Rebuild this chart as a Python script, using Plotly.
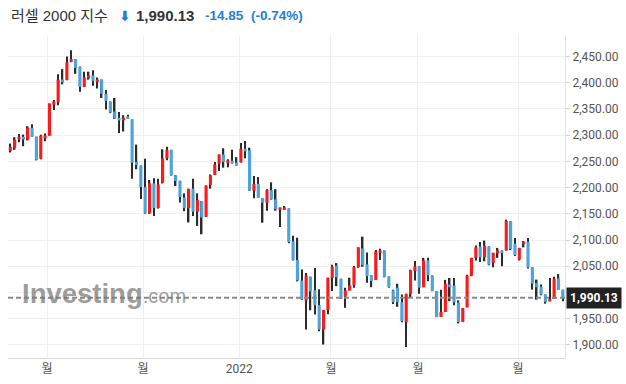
import plotly.graph_objects as go

# ---------------- data (daily OHLC) ----------------
open_ = [2270, 2276, 2292, 2297, 2292, 2314, 2297, 2255, 2294, 2299.4,
         2358, 2363, 2406, 2405, 2440, 2445, 2430, 2392, 2409, 2414,
         2401, 2406, 2379, 2364, 2345, 2333,
         2328.5, 2336, 2330, 2249, 2242, 2201, 2150.6, 2208, 2161, 2209.5,
         2256, 2272, 2223.4, 2213, 2181, 2161, 2198, 2154, 2174, 2144.3,
         2205, 2224, 2245.6, 2263, 2247,
         2251, 2248, 2248, 2274, 2271, 2194, 2207, 2180, 2171, 2195,
         2177.6, 2157.7, 2157.7, 2160, 2097.4, 2062, 2022.5, 1984.6, 2030, 2004.5,
         1976, 1929.5, 1966.7, 2027.6, 2051, 2026,
         1992.3, 2003.8, 2013.4, 2048.4, 2084, 2053.5, 2032.5, 2023.6, 2075, 2080,
         2030.6, 2003.8, 2009, 1981.5, 1943.3, 1997.4, 2040.8, 2050.3, 2010, 2061,
         2032.5, 2002.5, 1953, 1963, 2015.3,
         2013, 1981, 1943.6, 1971.6, 2032, 2066, 2087.6, 2067, 2087.6, 2056.4,
         2075, 2080, 2080, 2136, 2092.7, 2062.7, 2092.7, 2096.5, 2048, 2018,
         2011, 1996, 1983, 1988, 2026.4, 2005]
high = [2284, 2296, 2302, 2301, 2317, 2321, 2297, 2301, 2303, 2360.5,
        2367, 2416, 2426, 2450, 2462, 2445, 2431, 2421, 2421, 2424,
        2410, 2406, 2386, 2364, 2371, 2344,
        2338, 2339, 2330, 2282, 2242, 2255, 2214.5, 2218, 2217, 2273,
        2278, 2272, 2223.4, 2213, 2189, 2198, 2217, 2189, 2174, 2204,
        2225, 2249, 2263, 2275, 2254,
        2272, 2258, 2285, 2289, 2276, 2222, 2220, 2180, 2197, 2210,
        2197, 2162, 2165, 2160, 2108, 2104.5, 2043.6, 2037, 2030, 2046.8,
        2006, 1966.7, 2028, 2053, 2056, 2026,
        2009, 2028, 2050.3, 2086, 2106.4, 2076, 2032.5, 2081, 2083.4, 2080,
        2030.6, 2005, 2016.6, 1996, 1997.4, 2043.3, 2060, 2050.3, 2066, 2066,
        2032.5, 2002.5, 2005, 2024, 2027.7,
        2027.7, 1985, 1970.4, 2034, 2066, 2089.5, 2096, 2099, 2087.6, 2075.5,
        2085, 2080, 2139, 2136, 2104, 2085, 2098, 2104, 2048, 2024.5,
        2015, 1996, 2027.7, 2030, 2035, 2005]
low = [2267, 2272, 2286.5, 2279, 2290, 2297, 2252, 2254, 2288.5, 2299,
       2348, 2357, 2397, 2404.5, 2439, 2417, 2383, 2392, 2406, 2394,
       2389, 2371, 2349, 2342, 2331, 2304,
       2307, 2331, 2217, 2235, 2178, 2150, 2150, 2146, 2160, 2208,
       2252, 2223, 2203, 2171.5, 2155, 2133.5, 2146, 2127, 2111, 2144,
       2198, 2224, 2231.6, 2238, 2239,
       2246, 2242, 2248, 2256, 2194, 2179.5, 2181, 2133, 2156, 2177,
       2156, 2125, 2157.7, 2094, 2061, 2021, 1986, 1929.5, 1966, 1958,
       1926, 1900.7, 1958.4, 2003, 2012, 1988,
       1970.7, 2003.8, 2009, 2047, 2049, 2018.5, 2010, 2023.6, 2062, 2029,
       2009, 1978, 1972.6, 1943.3, 1896, 1991, 2023, 1997.4, 2010, 2021.6,
       2002.5, 1953, 1953, 1963, 1983.4,
       1975.5, 1941, 1943.6, 1971.6, 2031, 2061, 2058, 2059.5, 2052, 2048,
       2066, 2050, 2080, 2081, 2069.7, 2061, 2086, 2045.5, 2005.4, 1986.3,
       1994.6, 1978.7, 1983, 1988, 2004.98, 1983]
close = [2277.6, 2291, 2297, 2292, 2314, 2297, 2253, 2299, 2299, 2360,
         2364, 2406, 2401, 2439, 2445, 2428, 2392, 2410, 2414, 2403,
         2406, 2379, 2365, 2343, 2332, 2328,
         2333.5, 2331, 2247.5, 2243, 2201, 2150.6, 2208, 2161, 2206, 2255.7,
         2272, 2223, 2212.6, 2182, 2161, 2197, 2154, 2176, 2143, 2204,
         2223.4, 2244, 2263, 2249, 2252,
         2246, 2242, 2274, 2269, 2194, 2207, 2181, 2171, 2195, 2177.6,
         2159, 2162, 2162, 2096, 2062, 2023, 1986.6, 2032, 2002, 1975.6,
         1929.5, 1966.7, 2028, 2049, 2029, 1988.5,
         2003.8, 2013.4, 2048.4, 2086, 2052, 2031, 2021.6, 2078.3, 2080, 2029,
         2010, 1981.5, 1981.5, 1945.2, 1997.4, 2042, 2049.7, 2009, 2061, 2033,
         2002.5, 1953, 1963, 2016.6, 2010,
         1981, 1943.6, 1970.4, 2032, 2066, 2086, 2067, 2089, 2053, 2075.5,
         2080, 2075, 2136, 2083, 2071, 2085, 2096.5, 2048, 2017, 2010,
         1996, 1982, 1988, 2026.4, 2004.98, 1990.13]

x_tick_pos = [8.44, 30.5, 52.6, 73.7, 93.7, 116.7]
x_tick_labels = ["월", "월", "2022", "월", "월", "월"]
y_ticks = [1900, 1950, 2000, 2050, 2100, 2150, 2200, 2250, 2300, 2350, 2400, 2450]

title_name = "러셀 2000 지수"
last_price = 1990.13
change = -14.85
change_pct = -0.74

# ---------------- styling ----------------
UP = "#ff1a1a"
DOWN = "#4da3dc"
WICK = "#2b2b2b"
BLUE_TXT = "#1e7fd8"

idx = list(range(len(close)))
body_base = [min(o, c) for o, c in zip(open_, close)]
body_len = [max(abs(c - o), 0.8) for o, c in zip(open_, close)]
body_col = [UP if c >= o else DOWN for o, c in zip(open_, close)]

# y tick labels; the one hidden under the price tag is left blank
y_tick_text = ["" if abs(v - last_price) < 20 else f"{v:,.2f}" for v in y_ticks]

fig = go.Figure()
fig.add_trace(go.Bar(x=idx, y=[h - l for h, l in zip(high, low)], base=low,
                     width=0.34, marker=dict(color=WICK, line=dict(width=0)),
                     hoverinfo="skip", showlegend=False))
fig.add_trace(go.Bar(x=idx, y=body_len, base=body_base, width=0.72,
                     marker=dict(color=body_col, line=dict(width=0)),
                     showlegend=False))

L, R, T, B = 8, 61, 35, 26
W, H = 626, 384
pw, ph = W - L - R, H - T - B


def px_x(px):
    return (px - L) / pw


def px_y(py):
    return (H - B - py) / ph


fig.update_layout(
    width=W, height=H, margin=dict(l=L, r=R, t=T, b=B, autoexpand=False),
    paper_bgcolor="white", plot_bgcolor="white",
    barmode="overlay", showlegend=False,
    font=dict(family="Roboto, Arial, 'Noto Sans CJK KR'", size=12, color="#555"),
    xaxis=dict(range=[-0.53, 127.5], tickmode="array", tickvals=x_tick_pos,
               ticktext=x_tick_labels, showgrid=True, gridcolor="#f0f0f0",
               gridwidth=1, zeroline=False, showline=True, linecolor="#dcdcdc",
               linewidth=1, ticks="", fixedrange=True,
               tickfont=dict(family="Roboto, 'Noto Sans CJK KR'", size=12, color="#555")),
    yaxis=dict(range=[1875, 2491], side="right", tickmode="array", tickvals=y_ticks,
               ticktext=y_tick_text, showgrid=True, gridcolor="#f0f0f0", gridwidth=1,
               zeroline=False, showline=True, linecolor="#e3e3e3", linewidth=1,
               ticks="outside", ticklen=4, tickcolor="#d5d5d5",
               tickfont=dict(family="Roboto, Arial", size=12, color="#555")),
)

# last-price dashed line
fig.add_shape(type="line", xref="paper", yref="y", x0=0, x1=1,
              y0=last_price, y1=last_price,
              line=dict(color="#8a8a8a", width=2, dash="5px,3px"))

# price tag on the axis
fig.add_annotation(xref="paper", yref="y", x=1, y=last_price, xanchor="left",
                   yanchor="middle", xshift=1, showarrow=False,
                   text=f"<b>{last_price:,.2f}</b>", bgcolor="#222222",
                   borderpad=3, font=dict(family="Roboto, Arial", size=12, color="white"))

# header
ty = px_y(16)
fig.add_annotation(xref="paper", yref="paper", x=px_x(9), y=ty, xanchor="left",
                   yanchor="middle", showarrow=False, text=title_name,
                   font=dict(family="Arial, 'Noto Sans CJK KR'", size=15, color="#333"))
fig.add_annotation(xref="paper", yref="paper", x=px_x(117), y=ty, xanchor="left",
                   yanchor="middle", showarrow=False, text="<b>⬇</b>",
                   font=dict(family="DejaVu Sans", size=14, color=BLUE_TXT))
fig.add_annotation(xref="paper", yref="paper", x=px_x(134), y=ty, xanchor="left",
                   yanchor="middle", showarrow=False, text=f"<b>{last_price:,.2f}</b>",
                   font=dict(family="Arial", size=15, color="#333"))
fig.add_annotation(xref="paper", yref="paper", x=px_x(203), y=ty, xanchor="left",
                   yanchor="middle", showarrow=False, text=f"<b>{change:.2f}</b>",
                   font=dict(family="Arial", size=13.5, color=BLUE_TXT))
fig.add_annotation(xref="paper", yref="paper", x=px_x(249), y=ty, xanchor="left",
                   yanchor="middle", showarrow=False, text=f"<b>({change_pct:.2f}%)</b>",
                   font=dict(family="Arial", size=13.5, color=BLUE_TXT))

# watermark
fig.add_annotation(xref="paper", yref="paper", x=px_x(20), y=px_y(293), xanchor="left",
                   yanchor="middle", showarrow=False,
                   text="<b>Investing</b><span style='font-size:20px'>.com</span>",
                   font=dict(family="Arial", size=27.5, color="rgba(120,120,120,0.72)"))

fig.write_html("out.html", config={"displayModeBar": False},
               post_script="document.body.style.margin='0';document.body.style.overflow='hidden';")
